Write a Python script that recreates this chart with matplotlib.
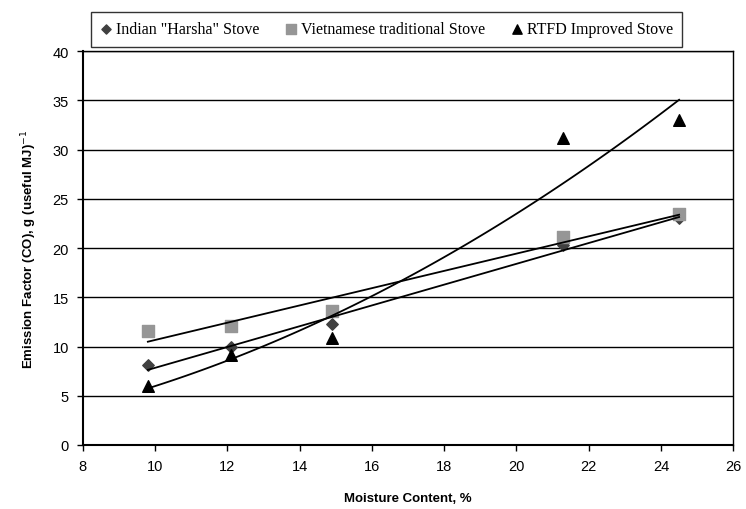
import numpy as np
import matplotlib.pyplot as plt

# moisture content (%) and CO emission factors
moisture = [9.8, 12.1, 14.9, 21.3, 24.5]
harsha = [8.1, 9.9, 12.3, 20.3, 23.0]
vietnam = [11.6, 12.1, 13.6, 21.1, 23.5]
rtfd = [6.0, 9.1, 10.9, 31.2, 33.0]

fig = plt.figure(figsize=(7.46, 5.10), dpi=100)
ax = fig.add_axes([0.111, 0.1255, 0.872, 0.7725])

ax.scatter(moisture, harsha, marker="D", s=34, color="#404040", label='Indian "Harsha" Stove', zorder=3)
ax.scatter(moisture, vietnam, marker="s", s=70, color="#969696", label="Vietnamese traditional Stove", zorder=3)
ax.scatter(moisture, rtfd, marker="^", s=70, color="black", label="RTFD Improved Stove", zorder=3)

# trend lines: linear for the first two, power law for RTFD
xs = np.linspace(min(moisture), max(moisture), 100)
for ys in [harsha, vietnam]:
    c = np.polyfit(moisture, ys, 1)
    ax.plot(xs, np.polyval(c, xs), color="black", lw=1.3, zorder=4)
b, a = np.polyfit(np.log(moisture), np.log(rtfd), 1)
ax.plot(xs, np.exp(a) * xs ** b, color="black", lw=1.3, zorder=4)

ax.set_xlim(8, 26)
ax.set_ylim(0, 40)
ax.set_xticks(range(8, 27, 2))
ax.set_yticks(range(0, 41, 5))
ax.yaxis.grid(True, color="black", lw=1)
ax.set_axisbelow(True)
for s in ax.spines.values():
    s.set_color("black")
    s.set_linewidth(1)
ax.spines["left"].set_linewidth(1.5)
ax.spines["bottom"].set_linewidth(1.5)
ax.tick_params(direction="out", length=4, width=1, labelsize=10.5, pad=6)
for t in ax.get_xticklabels() + ax.get_yticklabels():
    t.set_family("Liberation Sans")

ax.set_xlabel("Moisture Content, %", fontsize=9.5, fontweight="bold", family="Liberation Sans", labelpad=14)
ax.set_ylabel("Emission Factor (CO), g (useful MJ)$^{-1}$", fontsize=9.5, fontweight="bold",
              family="Liberation Sans", labelpad=10)

leg = fig.legend(loc="center", bbox_to_anchor=(0.518, 0.941), ncol=3, frameon=True, fancybox=False,
                 edgecolor="black", prop={"family": "Liberation Serif", "size": 11.5},
                 handlelength=0.8, handletextpad=0.2, columnspacing=1.6, borderpad=0.6,
                 markerscale=0.8)
leg.get_frame().set_linewidth(1)

fig.savefig("out.png", dpi=100)
